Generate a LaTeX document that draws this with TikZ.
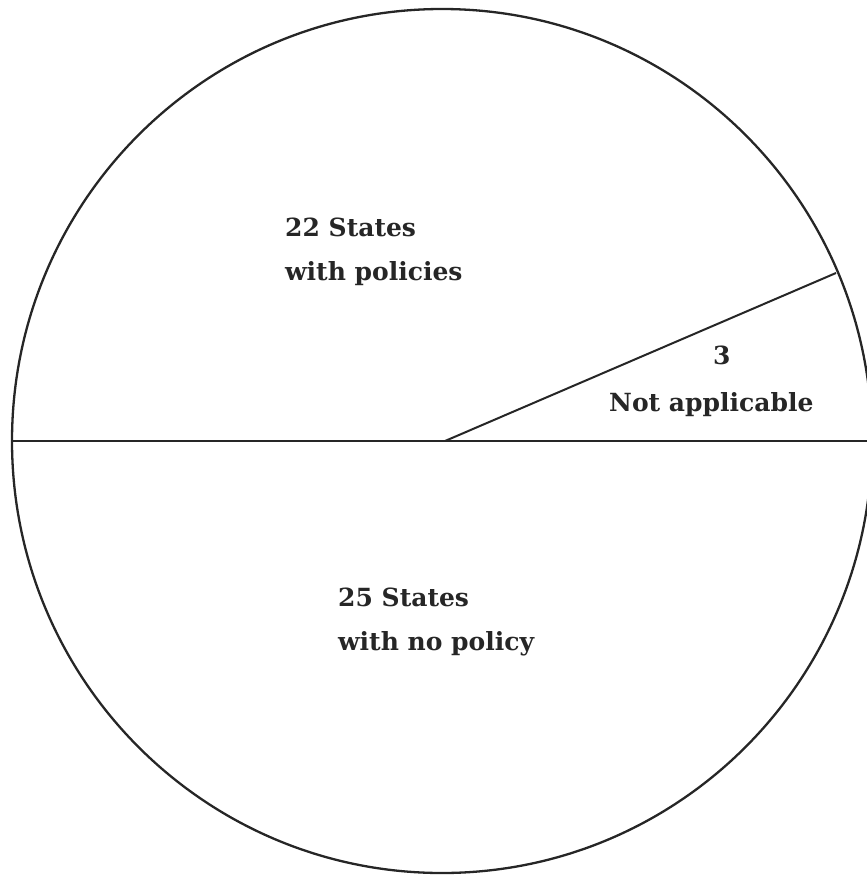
\documentclass[tikz,border=0pt]{standalone}
\usepackage{fontspec}
\setmainfont{DejaVu Serif}
\usepackage{tikz}
\usetikzlibrary{positioning}

\tikzset{
  rim/.style={line width=2.3pt, color=black!85},
  slice/.style={line width=2pt, color=black!85},
  lbl/.style={anchor=base west, inner sep=0pt, font=\bfseries\fontsize{25}{29}\selectfont, text=black!85}
}

\begin{document}
\begin{tikzpicture}[x=1pt, y=-1pt]
  \useasboundingbox (0,0) rectangle (867,876);
  \clip (0,0) rectangle (867,876);
  \coordinate (centre) at (445,441);
  \coordinate (west) at (12,441);
  \coordinate (east) at (880,441);
  \coordinate (cut) at (836,273);
  % pie outline
  \draw[rim] (442,441) ellipse [x radius=430, y radius=432];
  \draw[slice] (west) -- (east);
  \draw[slice] (centre) -- (cut);
  % labels
  \node[lbl] (with) at (285,236) {22 States};
  \node[lbl] (withl) at (285,280) {with policies};
  \node[lbl] (na) at (713,364) {3};
  \node[lbl] (nal) at (609,411) {Not applicable};
  \node[lbl] (none) at (338,606) {25 States};
  \node[lbl] (nonel) at (338,650) {with no policy};
\end{tikzpicture}
\end{document}
